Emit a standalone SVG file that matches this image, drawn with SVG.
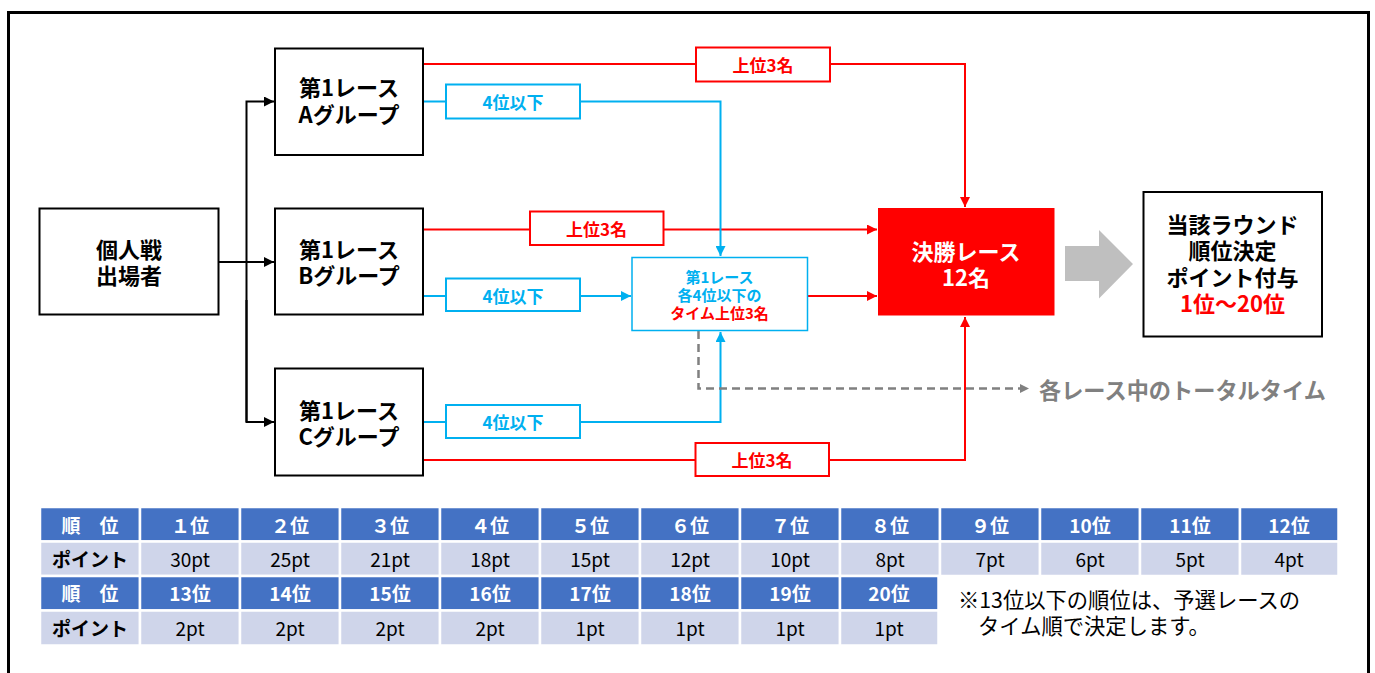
<svg xmlns="http://www.w3.org/2000/svg" width="1375" height="673" viewBox="0 0 1375 673">
<style>
text{font-family:"Noto Sans CJK JP","Noto Sans",sans-serif;dominant-baseline:central;text-anchor:middle}
.node{fill:#fff;stroke:#000;stroke-width:2}
.nt{font-size:22px;font-weight:bold;fill:#000}
.red{stroke:#FF0000;stroke-width:2;fill:none}
.blue{stroke:#00B0F0;stroke-width:2;fill:none}
.blk{stroke:#000;stroke-width:2;fill:none}
.lblr{fill:#fff;stroke:#FF0000;stroke-width:2}
.lblb{fill:#fff;stroke:#00B0F0;stroke-width:2}
.lr{font-size:17px;font-weight:bold;fill:#FF0000}
.lb{font-size:17px;font-weight:bold;fill:#00B0F0}
.hd{fill:#4472C4;stroke:#fff;stroke-width:2.5}
.dt{fill:#CFD5EA;stroke:#fff;stroke-width:2.5}
.ht{font-size:19px;font-weight:bold;fill:#fff}
.pt{font-size:19px;fill:#000}
.pb{font-size:19px;font-weight:bold;fill:#000}
</style>
<defs>
<marker id="ak" viewBox="0 0 10 10" refX="10" refY="5" markerWidth="10" markerHeight="10" markerUnits="userSpaceOnUse" orient="auto"><path d="M0,0 L10,5 L0,10 z" fill="#000"/></marker>
<marker id="ar" viewBox="0 0 10 10" refX="10" refY="5" markerWidth="10" markerHeight="10" markerUnits="userSpaceOnUse" orient="auto"><path d="M0,0 L10,5 L0,10 z" fill="#FF0000"/></marker>
<marker id="ab" viewBox="0 0 10 10" refX="10" refY="5" markerWidth="10" markerHeight="10" markerUnits="userSpaceOnUse" orient="auto"><path d="M0,0 L10,5 L0,10 z" fill="#00B0F0"/></marker>
<marker id="ag" viewBox="0 0 10 10" refX="10" refY="5" markerWidth="9" markerHeight="9" markerUnits="userSpaceOnUse" orient="auto"><path d="M0,0 L10,5 L0,10 z" fill="#808080"/></marker>
</defs>
<rect width="1375" height="673" fill="#fff"/>
<rect x="8.5" y="12.5" width="1360" height="700" fill="none" stroke="#000" stroke-width="3"/>

<g id="connectors">
<path class="blk" d="M218,262 H274" marker-end="url(#ak)"/>
<path class="blk" d="M246.5,422 V101.5 H274" marker-end="url(#ak)"/>
<path class="blk" d="M246.5,300 V422 H274" marker-end="url(#ak)"/>
<path class="red" d="M423,64 H965 V207" marker-end="url(#ar)"/>
<path class="red" d="M423,229.5 H877" marker-end="url(#ar)"/>
<path class="red" d="M807.5,296 H877" marker-end="url(#ar)"/>
<path class="red" d="M423,460 H965 V317" marker-end="url(#ar)"/>
<path class="blue" d="M423,101.5 H720.5 V256" marker-end="url(#ab)"/>
<path class="blue" d="M423,296 H631" marker-end="url(#ab)"/>
<path class="blue" d="M423,422 H720.5 V332" marker-end="url(#ab)"/>
<path d="M698.5,331 V388.5 H1029" fill="none" stroke="#808080" stroke-width="2.5" stroke-dasharray="8,5" marker-end="url(#ag)"/>
<path d="M1065,246 H1099 V230 L1133,264 L1099,298.5 V281 H1065 z" fill="#BFBFBF"/>
</g>

<g id="lbl-a-top"><rect class="lblr" x="696" y="47.5" width="134" height="34"/><text class="lr" x="763" y="64.5">上位3名</text></g>
<g id="lbl-a-low"><rect class="lblb" x="446" y="84.5" width="134" height="34"/><text class="lb" x="513" y="101.5">4位以下</text></g>
<g id="lbl-b-top"><rect class="lblr" x="530" y="211.5" width="133.5" height="33.5"/><text class="lr" x="596.5" y="228.5">上位3名</text></g>
<g id="lbl-b-low"><rect class="lblb" x="446" y="278.5" width="134" height="32.5"/><text class="lb" x="513" y="295">4位以下</text></g>
<g id="lbl-c-low"><rect class="lblb" x="446" y="405" width="134" height="33"/><text class="lb" x="513" y="421.5">4位以下</text></g>
<g id="lbl-c-top"><rect class="lblr" x="695.5" y="443" width="133.5" height="33"/><text class="lr" x="762" y="459.5">上位3名</text></g>

<g id="n-entrants"><rect class="node" x="39.5" y="208.5" width="179" height="106"/><text class="nt"><tspan x="129" y="247.5">個人戦</tspan><tspan x="129" y="274">出場者</tspan></text></g>
<g id="n-a"><rect class="node" x="275" y="48.5" width="148" height="106.5"/><text class="nt"><tspan x="349" y="86">第1レース</tspan><tspan x="349" y="112.5">Aグループ</tspan></text></g>
<g id="n-b"><rect class="node" x="275" y="208.5" width="148" height="106"/><text class="nt"><tspan x="349" y="247.5">第1レース</tspan><tspan x="349" y="274">Bグループ</tspan></text></g>
<g id="n-c"><rect class="node" x="275" y="368.5" width="148" height="107"/><text class="nt"><tspan x="349" y="408.5">第1レース</tspan><tspan x="349" y="435">Cグループ</tspan></text></g>
<g id="n-time"><rect x="632" y="257.5" width="175.5" height="73" fill="#fff" stroke="#00B0F0" stroke-width="1.5"/><text font-size="15" font-weight="bold" fill="#00B0F0"><tspan x="719.5" y="275.5">第1レース</tspan><tspan x="719.5" y="293.5">各4位以下の</tspan><tspan x="719.5" y="311.5" fill="#FF0000">タイム上位3名</tspan></text></g>
<g id="n-final"><rect x="878" y="208" width="176.5" height="107.5" fill="#FF0000"/><text class="nt" style="fill:#fff"><tspan x="966" y="249.5">決勝レース</tspan><tspan x="966" y="276">12名</tspan></text></g>
<g id="n-result"><rect class="node" x="1143.5" y="192" width="178.5" height="144.5"/><text class="nt"><tspan x="1232.5" y="222.5">当該ラウンド</tspan><tspan x="1232.5" y="249">順位決定</tspan><tspan x="1232.5" y="275.5">ポイント付与</tspan><tspan x="1232.5" y="302" fill="#FF0000">1位～20位</tspan></text></g>
<g id="n-total"><text x="1039" y="388.5" font-size="22.2" font-weight="bold" fill="#808080" style="text-anchor:start">各レース中のトータルタイム</text></g>

<g id="table">
<rect class="hd" x="40" y="507" width="100" height="34.5"/><text class="ht" x="90" y="524">順　位</text>
<rect class="hd" x="140" y="507" width="100" height="34.5"/><text class="ht" x="190" y="524">１位</text>
<rect class="hd" x="240" y="507" width="100" height="34.5"/><text class="ht" x="290" y="524">２位</text>
<rect class="hd" x="340" y="507" width="100" height="34.5"/><text class="ht" x="390" y="524">３位</text>
<rect class="hd" x="440" y="507" width="100" height="34.5"/><text class="ht" x="490" y="524">４位</text>
<rect class="hd" x="540" y="507" width="100" height="34.5"/><text class="ht" x="590" y="524">５位</text>
<rect class="hd" x="640" y="507" width="100" height="34.5"/><text class="ht" x="690" y="524">６位</text>
<rect class="hd" x="740" y="507" width="100" height="34.5"/><text class="ht" x="790" y="524">７位</text>
<rect class="hd" x="840" y="507" width="100" height="34.5"/><text class="ht" x="890" y="524">８位</text>
<rect class="hd" x="940" y="507" width="100" height="34.5"/><text class="ht" x="990" y="524">９位</text>
<rect class="hd" x="1040" y="507" width="100" height="34.5"/><text class="ht" x="1090" y="524">10位</text>
<rect class="hd" x="1140" y="507" width="100" height="34.5"/><text class="ht" x="1190" y="524">11位</text>
<rect class="hd" x="1240" y="507" width="98.5" height="34.5"/><text class="ht" x="1289" y="524">12位</text>

<rect class="dt" x="40" y="541.5" width="100" height="34.5"/><text class="pb" x="90" y="558.5">ポイント</text>
<rect class="dt" x="140" y="541.5" width="100" height="34.5"/><text class="pt" x="190" y="558.5">30pt</text>
<rect class="dt" x="240" y="541.5" width="100" height="34.5"/><text class="pt" x="290" y="558.5">25pt</text>
<rect class="dt" x="340" y="541.5" width="100" height="34.5"/><text class="pt" x="390" y="558.5">21pt</text>
<rect class="dt" x="440" y="541.5" width="100" height="34.5"/><text class="pt" x="490" y="558.5">18pt</text>
<rect class="dt" x="540" y="541.5" width="100" height="34.5"/><text class="pt" x="590" y="558.5">15pt</text>
<rect class="dt" x="640" y="541.5" width="100" height="34.5"/><text class="pt" x="690" y="558.5">12pt</text>
<rect class="dt" x="740" y="541.5" width="100" height="34.5"/><text class="pt" x="790" y="558.5">10pt</text>
<rect class="dt" x="840" y="541.5" width="100" height="34.5"/><text class="pt" x="890" y="558.5">8pt</text>
<rect class="dt" x="940" y="541.5" width="100" height="34.5"/><text class="pt" x="990" y="558.5">7pt</text>
<rect class="dt" x="1040" y="541.5" width="100" height="34.5"/><text class="pt" x="1090" y="558.5">6pt</text>
<rect class="dt" x="1140" y="541.5" width="100" height="34.5"/><text class="pt" x="1190" y="558.5">5pt</text>
<rect class="dt" x="1240" y="541.5" width="98.5" height="34.5"/><text class="pt" x="1289" y="558.5">4pt</text>

<rect class="hd" x="40" y="576" width="100" height="34.5"/><text class="ht" x="90" y="592.5">順　位</text>
<rect class="hd" x="140" y="576" width="100" height="34.5"/><text class="ht" x="190" y="592.5">13位</text>
<rect class="hd" x="240" y="576" width="100" height="34.5"/><text class="ht" x="290" y="592.5">14位</text>
<rect class="hd" x="340" y="576" width="100" height="34.5"/><text class="ht" x="390" y="592.5">15位</text>
<rect class="hd" x="440" y="576" width="100" height="34.5"/><text class="ht" x="490" y="592.5">16位</text>
<rect class="hd" x="540" y="576" width="100" height="34.5"/><text class="ht" x="590" y="592.5">17位</text>
<rect class="hd" x="640" y="576" width="100" height="34.5"/><text class="ht" x="690" y="592.5">18位</text>
<rect class="hd" x="740" y="576" width="100" height="34.5"/><text class="ht" x="790" y="592.5">19位</text>
<rect class="hd" x="840" y="576" width="98.5" height="34.5"/><text class="ht" x="889" y="592.5">20位</text>

<rect class="dt" x="40" y="610.5" width="100" height="35"/><text class="pb" x="90" y="627.5">ポイント</text>
<rect class="dt" x="140" y="610.5" width="100" height="35"/><text class="pt" x="190" y="627.5">2pt</text>
<rect class="dt" x="240" y="610.5" width="100" height="35"/><text class="pt" x="290" y="627.5">2pt</text>
<rect class="dt" x="340" y="610.5" width="100" height="35"/><text class="pt" x="390" y="627.5">2pt</text>
<rect class="dt" x="440" y="610.5" width="100" height="35"/><text class="pt" x="490" y="627.5">2pt</text>
<rect class="dt" x="540" y="610.5" width="100" height="35"/><text class="pt" x="590" y="627.5">1pt</text>
<rect class="dt" x="640" y="610.5" width="100" height="35"/><text class="pt" x="690" y="627.5">1pt</text>
<rect class="dt" x="740" y="610.5" width="100" height="35"/><text class="pt" x="790" y="627.5">1pt</text>
<rect class="dt" x="840" y="610.5" width="98.5" height="35"/><text class="pt" x="889" y="627.5">1pt</text>
</g>
<g id="note">
<text font-size="21.3" fill="#000" style="text-anchor:start"><tspan x="958" y="597.5">※13位以下の順位は、予選レースの</tspan><tspan x="978" y="623.5">タイム順で決定します。</tspan></text>
</g>
</svg>
